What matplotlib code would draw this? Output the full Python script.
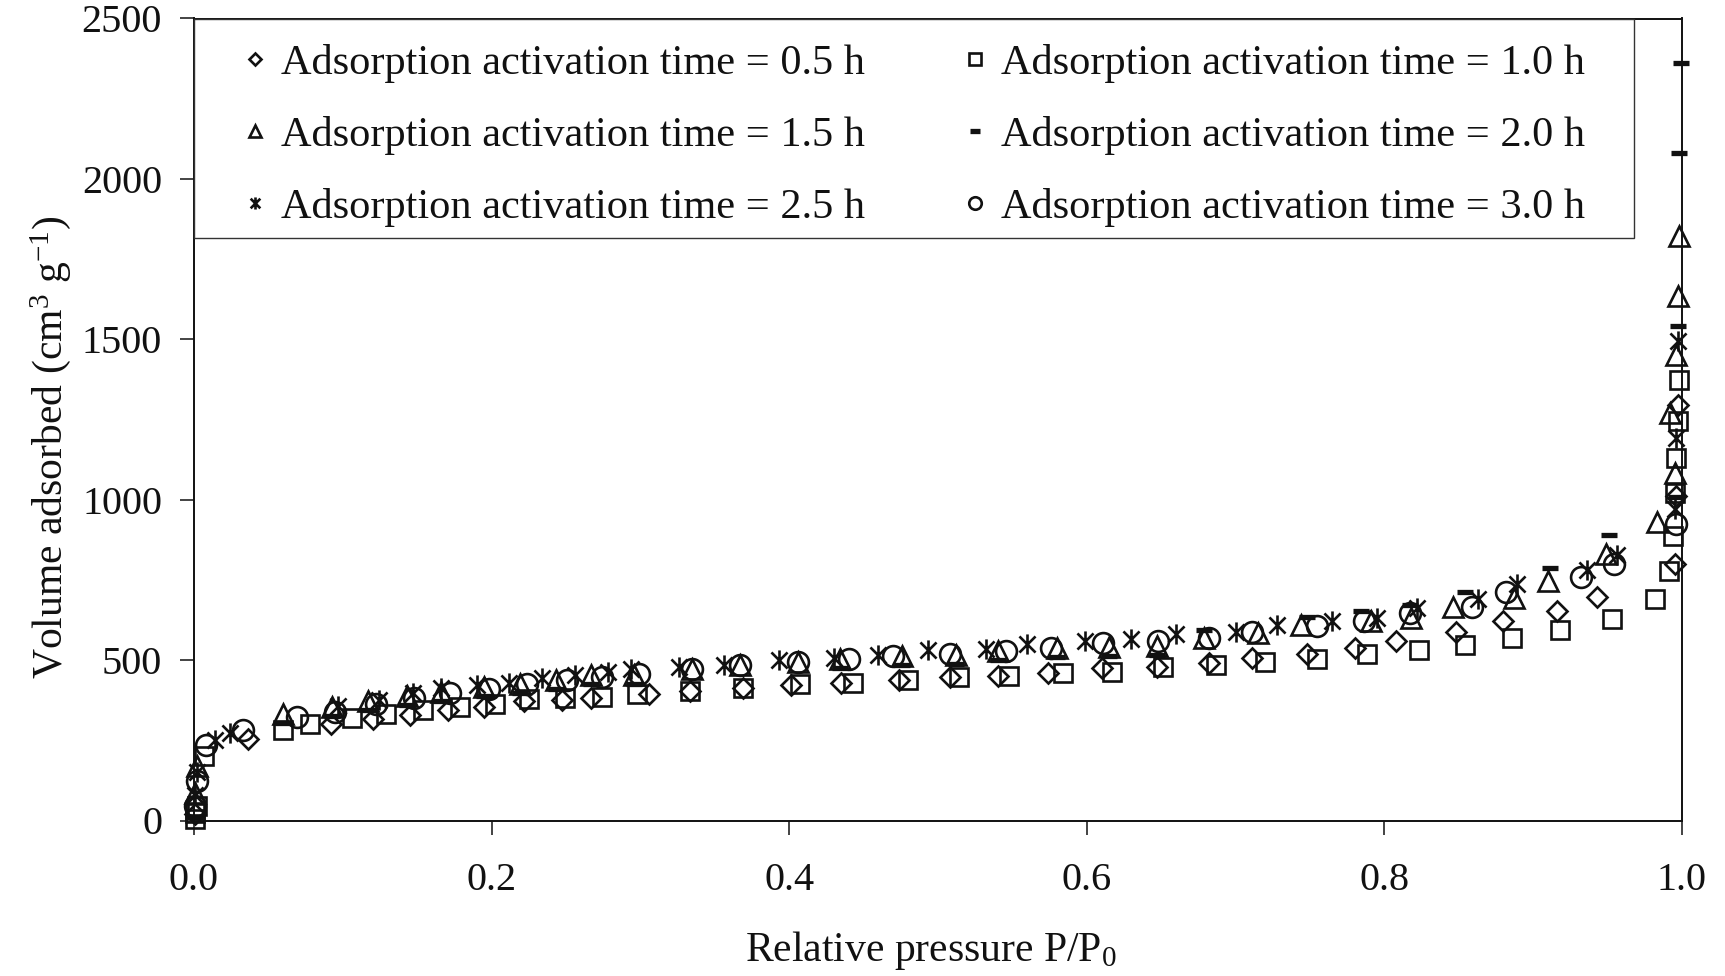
import matplotlib
matplotlib.use("Agg")
import matplotlib.pyplot as plt
from matplotlib.path import Path
from matplotlib.patches import Rectangle

# ---- data: N2 adsorption isotherms for different activation times ----
p_05 = [0.001, 0.036, 0.092, 0.120, 0.145, 0.171, 0.195, 0.222, 0.247, 0.267, 0.306, 0.333, 0.369,
        0.401, 0.435, 0.474, 0.508, 0.540, 0.574, 0.610, 0.647, 0.682, 0.711, 0.748, 0.780, 0.808,
        0.848, 0.880, 0.916, 0.943, 0.995, 0.996, 0.997]
v_05 = [20, 254, 301, 315, 330, 344, 353, 373, 377, 381, 395, 404, 413,
        421, 430, 439, 448, 451, 460, 474, 478, 492, 506, 520, 539, 558,
        588, 622, 652, 698, 799, 1010, 1296]

p_10 = [0.0005, 0.001, 0.002, 0.007, 0.060, 0.078, 0.106, 0.129, 0.154, 0.179, 0.202, 0.225, 0.249,
        0.274, 0.298, 0.333, 0.369, 0.407, 0.443, 0.480, 0.514, 0.548, 0.584, 0.617, 0.651, 0.687,
        0.720, 0.755, 0.788, 0.823, 0.854, 0.886, 0.918, 0.953, 0.982, 0.991, 0.994, 0.995, 0.996,
        0.997, 0.998]
v_10 = [5, 22, 45, 202, 282, 302, 321, 331, 345, 354, 363, 378, 382,
        386, 395, 404, 413, 427, 430, 439, 447, 451, 460, 463, 477, 486,
        495, 504, 518, 532, 546, 570, 595, 629, 690, 778, 887, 1022, 1131,
        1245, 1373]

p_15 = [0.001, 0.002, 0.060, 0.093, 0.117, 0.143, 0.166, 0.195, 0.219, 0.243, 0.267, 0.296, 0.335,
        0.367, 0.406, 0.434, 0.476, 0.512, 0.540, 0.580, 0.615, 0.647, 0.679, 0.715, 0.744, 0.791,
        0.818, 0.846, 0.887, 0.910, 0.949, 0.983, 0.995, 0.992, 0.996, 0.997, 0.998]
v_15 = [85, 171, 332, 353, 372, 387, 401, 416, 425, 439, 454, 453, 471,
        485, 494, 503, 512, 515, 529, 538, 541, 545, 570, 583, 608, 621,
        631, 665, 695, 746, 832, 929, 1084, 1271, 1452, 1636, 1822]

p_20 = [0.001, 0.060, 0.093, 0.117, 0.143, 0.166, 0.195, 0.219, 0.243, 0.267, 0.296, 0.434, 0.476,
        0.512, 0.540, 0.580, 0.615, 0.647, 0.679, 0.748, 0.784, 0.817, 0.854, 0.911, 0.951, 0.996,
        0.997, 0.998, 0.999]
v_20 = [10, 304, 325, 344, 359, 373, 388, 397, 411, 426, 425, 475, 484,
        487, 501, 510, 513, 517, 594, 635, 652, 672, 711, 786, 890, 1007,
        1542, 2081, 2360]

p_25 = [0.001, 0.002, 0.014, 0.024, 0.097, 0.124, 0.147, 0.166, 0.190, 0.212, 0.234, 0.256, 0.278,
        0.294, 0.326, 0.356, 0.393, 0.430, 0.460, 0.493, 0.532, 0.560, 0.599, 0.630, 0.660, 0.700,
        0.728, 0.765, 0.795, 0.822, 0.863, 0.889, 0.936, 0.956, 0.995, 0.996, 0.997]
v_25 = [80, 150, 252, 273, 358, 377, 398, 413, 421, 430, 445, 454, 464,
        473, 477, 486, 500, 508, 517, 531, 535, 549, 558, 566, 581, 589,
        609, 622, 632, 662, 691, 736, 781, 827, 970, 1193, 1495]

p_30 = [0.001, 0.002, 0.008, 0.033, 0.069, 0.095, 0.122, 0.148, 0.172, 0.198, 0.224, 0.251, 0.274,
        0.299, 0.335, 0.367, 0.406, 0.440, 0.470, 0.508, 0.546, 0.576, 0.611, 0.648, 0.682, 0.711,
        0.755, 0.786, 0.817, 0.859, 0.882, 0.932, 0.954, 0.996]
v_30 = [46, 124, 236, 282, 323, 337, 362, 382, 396, 410, 425, 439, 448,
        457, 471, 485, 494, 503, 512, 520, 529, 538, 552, 561, 570, 589,
        607, 622, 646, 665, 711, 760, 801, 923]

labels = ["Adsorption activation time = 0.5 h", "Adsorption activation time = 1.0 h",
          "Adsorption activation time = 1.5 h", "Adsorption activation time = 2.0 h",
          "Adsorption activation time = 2.5 h", "Adsorption activation time = 3.0 h"]
x_ticks = [0.0, 0.2, 0.4, 0.6, 0.8, 1.0]
y_ticks = [0, 500, 1000, 1500, 2000, 2500]

# ---- style ----
plt.rcParams["font.family"] = "Liberation Serif"
plt.rcParams["mathtext.fontset"] = "custom"
plt.rcParams["mathtext.rm"] = "Liberation Serif"
plt.rcParams["mathtext.it"] = "Liberation Serif:italic"
plt.rcParams["mathtext.bf"] = "Liberation Serif:bold"
INK = "#111111"

# asterisk-like marker: vertical bar crossed by an X
star = Path([(0, -1), (0, 1), (-0.8, -0.8), (0.8, 0.8), (-0.8, 0.8), (0.8, -0.8)],
            [Path.MOVETO, Path.LINETO, Path.MOVETO, Path.LINETO, Path.MOVETO, Path.LINETO])

fig = plt.figure(figsize=(17.25, 9.76), dpi=100)
ax = fig.add_axes([194 / 1725, 1 - 820.5 / 976, 1488 / 1725, 802 / 976])

common = dict(linestyle="none", mfc="none", mec=INK, clip_on=False)
h05, = ax.plot(p_05, v_05, marker="D", ms=9.8, mew=1.9, label=labels[0], **common)
h10, = ax.plot(p_10, v_10, marker="s", ms=13.5, mew=1.9, label=labels[1], **common)
h15, = ax.plot(p_15, v_15, marker="^", ms=14, mew=1.9, label=labels[2], **common)
h20, = ax.plot(p_20, v_20, marker="_", ms=11, mew=3.8, label=labels[3], **common)
h25, = ax.plot(p_25, v_25, marker=star, ms=14.5, mew=1.9, label=labels[4], **common)
h30, = ax.plot(p_30, v_30, marker="o", ms=15, mew=1.9, label=labels[5], **common)

ax.set_xlim(0, 1.0)
ax.set_ylim(0, 2500)
ax.set_xticks(x_ticks)
ax.set_xticklabels([f"{t:.1f}" for t in x_ticks])
ax.set_yticks(y_ticks)
ax.set_yticklabels([str(t) for t in y_ticks])
ax.tick_params(axis="both", direction="out", length=10, width=1.1, color=INK,
               labelcolor=INK, labelsize=29)
ax.tick_params(axis="x", pad=20)
ax.tick_params(axis="y", pad=13)
for s in ax.spines.values():
    s.set_linewidth(1.4)
    s.set_color(INK)

fig.text(51 / 1725, 1 - 447 / 976, r"Volume adsorbed (cm$^{3}$ g$^{-1}$)", rotation=90,
         ha="center", va="center", fontsize=30, color=INK)
fig.text(931 / 1725, 1 - 950 / 976, r"Relative pressure P/P$_{0}$",
         ha="center", va="center", fontsize=30, color=INK)

# legend entries laid out in two columns inside a plain frame at the top of the plot
ax.add_patch(Rectangle((0, 0.726), 0.968, 0.274, transform=ax.transAxes, fill=False,
                       lw=1.0, ec="#333333", clip_on=False, zorder=3))
ax.legend(handles=[h05, h15, h25, h10, h20, h30], ncol=2, loc="upper left",
          bbox_to_anchor=(0.0326, 0.968), frameon=False, fontsize=30.5,
          handlelength=0.6, handletextpad=0.31, columnspacing=2.3, labelspacing=0.78,
          borderpad=0, borderaxespad=0, markerscale=0.6, labelcolor=INK)

fig.savefig("out.png", dpi=100, facecolor="white")
